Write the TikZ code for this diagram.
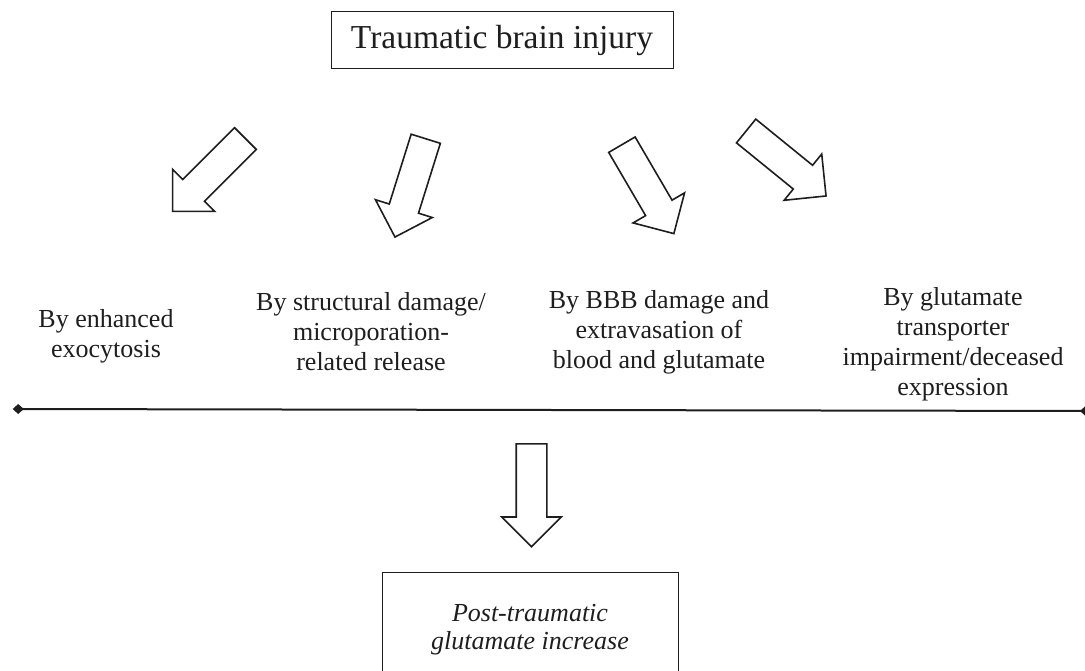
\documentclass[tikz,border=0pt]{standalone}
\usepackage{fontspec}
\setmainfont{Liberation Serif}
\usepackage{xcolor}
\usepackage{tikz}
\usetikzlibrary{arrows.meta, shapes.arrows}
\definecolor{tbi_ink}{RGB}{30, 30, 30}

\tikzset{
  labelbox/.style={draw=tbi_ink, line width=1pt, inner sep=0pt, text=tbi_ink},
  causetext/.style={align=center, text=tbi_ink, font=\fontsize{26}{30}\selectfont},
  blockarrow/.style={single arrow, draw=tbi_ink, line width=1.6pt, inner xsep=0pt, inner ysep=14.5pt,
    minimum height=103pt, minimum width=58pt, single arrow head extend=14.5pt, anchor=tail},
  splitline/.style={draw=tbi_ink, line width=2pt,
    {Diamond[length=11pt,width=10pt]}-{Diamond[length=11pt,width=10pt]}},
}

\begin{document}
\begin{tikzpicture}[x=1pt, y=-1pt]
    \useasboundingbox (0,0) rectangle (1085,671);

    \node[labelbox, minimum width=342pt, minimum height=57pt,
          font=\fontsize{33.5}{40}\selectfont] (tbi) at (502,40.5) {Traumatic brain injury};

    % four routes
    \node[blockarrow, rotate=225]   (arrExo)    at (246,138)   {};
    \node[blockarrow, rotate=252.6] (arrStruct) at (426,138)   {};
    \node[blockarrow, rotate=300.3] (arrBBB)    at (621.5,144) {};
    \node[blockarrow, rotate=320.9] (arrTrans)  at (745.5,130.5) {};

    \node[causetext] (exo)    at (106,336) {By enhanced\\exocytosis};
    \node[causetext] (struct) at (371,332) {By structural damage/\\microporation-\\related release};
    \node[causetext] (bbb)    at (659,332) {By BBB damage and\\extravasation of\\blood and glutamate};
    \node[causetext] (trans)  at (953,344) {By glutamate\\transporter\\impairment/deceased\\expression};

    \coordinate (lineL) at (12.7,409);
    \coordinate (lineR) at (1091,411);
    \draw[splitline] (lineL) -- (lineR);

    \node[blockarrow, rotate=270] (arrDown) at (531.5,443) {};

    \node[labelbox, causetext, minimum width=296pt, minimum height=116pt,
          font=\itshape\fontsize{26}{28}\selectfont] (rise) at (530,630) {Post-traumatic\\glutamate increase};
  \end{tikzpicture}
\end{document}
